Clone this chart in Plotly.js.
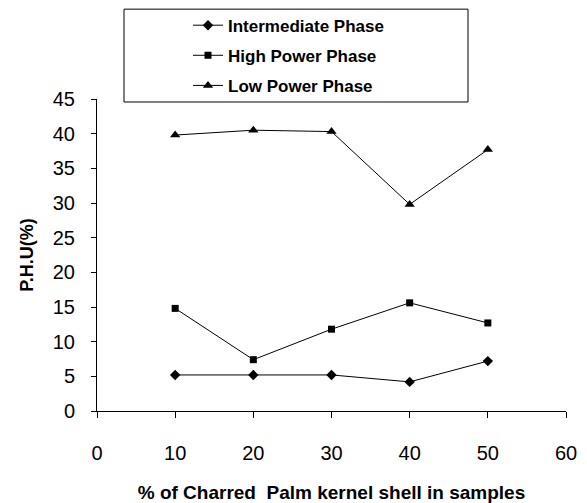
<!DOCTYPE html>
<html>
<head>
<meta charset="utf-8">
<script src="https://cdn.plot.ly/plotly-3.0.1.min.js"></script>
<style>html,body{margin:0;padding:0;background:#fff}#chart{width:587px;height:503px}</style>
</head>
<body>
<div id="chart"></div>
<script>
const charredPct = [10, 20, 30, 40, 50];
const intermediatePhase = [5.2, 5.2, 5.2, 4.2, 7.2];
const highPowerPhase = [14.8, 7.4, 11.8, 15.6, 12.7];
const lowPowerPhase = [39.8, 40.5, 40.3, 29.8, 37.7];
const seriesNames = ['Intermediate Phase', 'High Power Phase', 'Low Power Phase'];
const xTicks = [0, 10, 20, 30, 40, 50, 60];
const yTicks = [0, 5, 10, 15, 20, 25, 30, 35, 40, 45];

const W = 587, H = 503;
const m = {l: 97, r: 21, t: 98.5, b: 92};
const pw = W - m.l - m.r, ph = H - m.t - m.b;
const px = v => (v - m.l) / pw;
const py = v => (H - m.b - v) / ph;
const FONT = 'Liberation Sans, Arial, sans-serif';

function tr(y, name, sym, size, g) {
  return {
    x: charredPct, y: y, name: name, type: 'scatter', mode: 'lines+markers',
    line: {color: '#000', width: 1},
    marker: {symbol: sym, size: size, color: '#000'},
    legendgroup: g
  };
}

const data = [
  tr(intermediatePhase, seriesNames[0], 'diamond', 8, 'a'),
  tr(highPowerPhase, seriesNames[1], 'square', 7, 'b'),
  tr(lowPowerPhase, seriesNames[2], 'triangle-up', 9, 'c')
];

const layout = {
  width: W, height: H,
  margin: Object.assign({autoexpand: false}, m),
  paper_bgcolor: '#fff', plot_bgcolor: '#fff',
  font: {family: FONT, color: '#000'},
  showlegend: true,
  legend: {
    x: px(188), y: py(7), xanchor: 'left', yanchor: 'top',
    bgcolor: 'rgba(0,0,0,0)', borderwidth: 0,
    font: {size: 17, family: FONT, weight: 'bold', color: '#000'},
    traceorder: 'grouped', tracegroupgap: 5, itemwidth: 30
  },
  xaxis: {
    range: [0, 60], tickvals: xTicks, automargin: false,
    showline: true, linecolor: '#000', linewidth: 1, mirror: false,
    showgrid: false, zeroline: false,
    ticks: 'outside', ticklen: 6, tickcolor: '#000', tickwidth: 1,
    tickfont: {size: 20}, ticklabelstandoff: 18,
    title: {text: '% of Charred  Palm kernel shell in samples', font: {size: 19, weight: 'bold'}, standoff: 22}
  },
  yaxis: {
    range: [0, 45], tickvals: yTicks, automargin: false,
    showline: true, linecolor: '#000', linewidth: 1,
    showgrid: false, zeroline: false,
    ticks: 'outside', ticklen: 5, tickcolor: '#000', tickwidth: 1,
    tickfont: {size: 20}, ticklabelstandoff: 12,
    title: {text: 'P.H.U(%)', font: {size: 18, weight: 'bold'}, standoff: 14}
  },
  shapes: [{
    type: 'rect', xref: 'paper', yref: 'paper',
    x0: px(124), x1: px(468), y0: py(101.5), y1: py(8.5),
    line: {color: '#000', width: 1}, fillcolor: 'rgba(0,0,0,0)'
  }]
};

Plotly.newPlot('chart', data, layout, {displayModeBar: false, staticPlot: true});
</script>
</body>
</html>
